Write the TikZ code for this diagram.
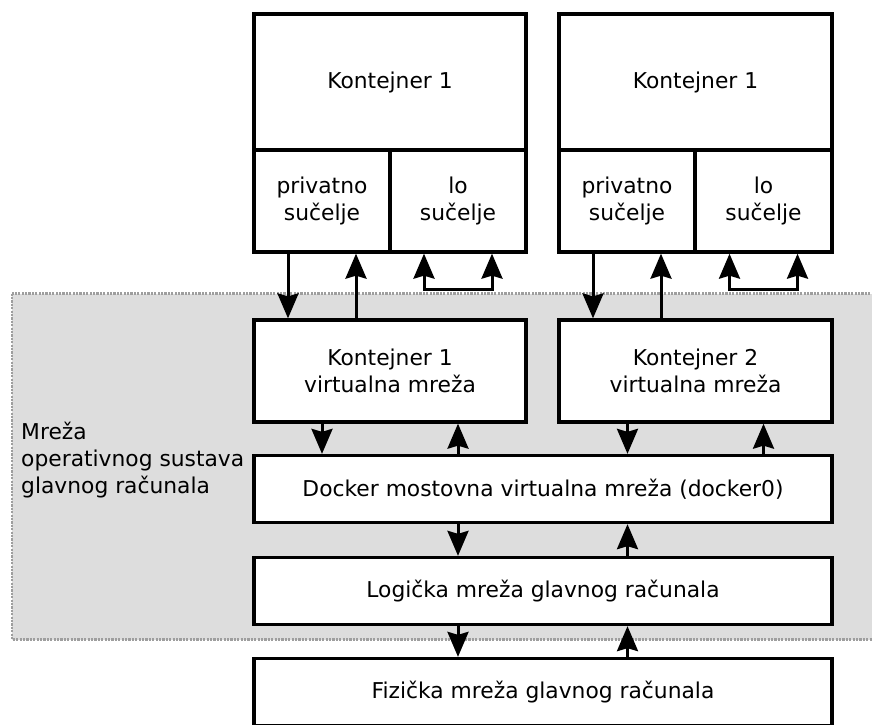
\documentclass[tikz,border=0pt]{standalone}
\usepackage{fontspec}
\setmainfont{DejaVu Sans}
\usetikzlibrary{arrows.meta}

\begin{document}
\begin{tikzpicture}[x=1pt,y=-1pt,
    >={Stealth[length=25pt,width=21pt,inset=3pt]},
    box/.style={draw=black,line width=3.3pt,fill=white,inner sep=0pt,align=center},
    link/.style={line width=3pt,->},
    loopback/.style={line width=3pt,<->}]
  \useasboundingbox (0,0) rectangle (872,724);
  {\fontsize{21.8}{27}\selectfont

  % Filling host OS network area
  \definecolor{osgray}{rgb}{0.867,0.867,0.867}%
  \definecolor{dotgray}{rgb}{0.62,0.62,0.62}%
  \draw [fill=osgray,draw=dotgray,line width=2.4pt,dash pattern=on 2.2pt off 1.2pt] (12,293.5) rectangle (884,639.5);%
  \node [anchor=west,align=left,inner sep=0pt] (osnet) at (21,460) {Mreža\\operativnog sustava\\glavnog računala};%

  % Drawing container 1
  \node [box,minimum width=272,minimum height=136] (kont1) at (390,82) {Kontejner 1};%
  \node [box,minimum width=136,minimum height=102] (priv1) at (322,201) {privatno\\sučelje};%
  \node [box,minimum width=136,minimum height=102] (lo1) at (458,201) {lo\\sučelje};%

  % Drawing container 2
  \node [box,minimum width=273,minimum height=136] (kont2) at (695.5,82) {Kontejner 1};%
  \node [box,minimum width=136,minimum height=102] (priv2) at (627,201) {privatno\\sučelje};%
  \node [box,minimum width=137,minimum height=102] (lo2) at (763.5,201) {lo\\sučelje};%

  % Drawing virtual networks
  \node [box,minimum width=272,minimum height=102] (vnet1) at (390,371) {Kontejner 1\\virtualna mreža};%
  \node [box,minimum width=273,minimum height=102] (vnet2) at (695.5,371) {Kontejner 2\\virtualna mreža};%

  % Drawing bridge, logical and physical network
  \node [box,minimum width=578,minimum height=67] (docker) at (543,489) {Docker mostovna virtualna mreža (docker0)};%
  \node [box,minimum width=578,minimum height=67] (logic) at (543,591) {Logička mreža glavnog računala};%
  \node [box,minimum width=578,minimum height=67] (phys) at (543,692) {Fizička mreža glavnog računala};%

  % Drawing interface links
  \draw [link] ([xshift=-34]priv1.south) -- ([xshift=-34]priv1.south |- vnet1.north);%
  \draw [link] ([xshift=34]priv1.south |- vnet1.north) -- ([xshift=34]priv1.south);%
  \draw [loopback] ([xshift=-34]lo1.south) -- ++(0,36) -| ([xshift=34]lo1.south);%
  \draw [link] ([xshift=-34]priv2.south) -- ([xshift=-34]priv2.south |- vnet2.north);%
  \draw [link] ([xshift=34]priv2.south |- vnet2.north) -- ([xshift=34]priv2.south);%
  \draw [loopback] ([xshift=-34]lo2.south) -- ++(0,36) -| ([xshift=34]lo2.south);%

  % Drawing virtual network links
  \draw [link] ([xshift=-68]vnet1.south) -- ([xshift=-68]vnet1.south |- docker.north);%
  \draw [link] ([xshift=68]vnet1.south |- docker.north) -- ([xshift=68]vnet1.south);%
  \draw [link] ([xshift=-68]vnet2.south) -- ([xshift=-68]vnet2.south |- docker.north);%
  \draw [link] ([xshift=68]vnet2.south |- docker.north) -- ([xshift=68]vnet2.south);%

  % Drawing host links
  \draw [link] ([xshift=68]vnet1.south |- docker.south) -- ([xshift=68]vnet1.south |- logic.north);%
  \draw [link] ([xshift=-68]vnet2.south |- logic.north) -- ([xshift=-68]vnet2.south |- docker.south);%
  \draw [link] ([xshift=68]vnet1.south |- logic.south) -- ([xshift=68]vnet1.south |- phys.north);%
  \draw [link] ([xshift=-68]vnet2.south |- phys.north) -- ([xshift=-68]vnet2.south |- logic.south);%
  }
\end{tikzpicture}
\end{document}
